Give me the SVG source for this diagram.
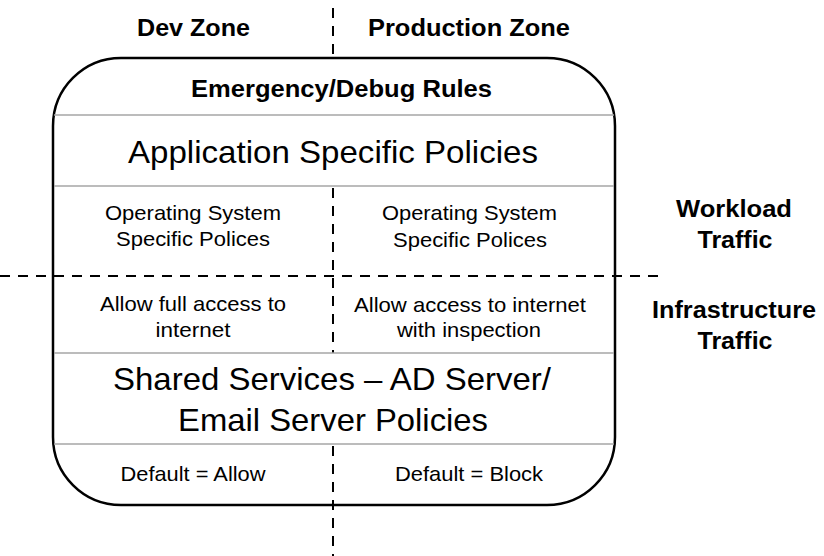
<svg xmlns="http://www.w3.org/2000/svg" width="824" height="556" viewBox="0 0 824 556">
<style>
text{font-family:"Liberation Sans",Arial,sans-serif;fill:#000;text-anchor:middle}
.b{font-weight:bold}
.h{font-size:23px}
.s{font-size:21px}
.m{font-size:21px}
.l{font-size:32px}
.sep{stroke:#a6a6a6;stroke-width:1.5;fill:none}
.dash{stroke:#000;stroke-width:2;stroke-dasharray:10 8;fill:none}
</style>
<rect width="824" height="556" fill="#fff"/>
<g id="connectors">
<line class="dash" x1="333" y1="8" x2="333" y2="58"/>
<line class="dash" x1="333" y1="188" x2="333" y2="353"/>
<line class="dash" x1="333" y1="446" x2="333" y2="556"/>
<line class="dash" x1="0" y1="276" x2="666" y2="276"/>
</g>
<g id="container">
<rect x="53" y="58" width="562" height="447" rx="68" ry="68" fill="none" stroke="#000" stroke-width="2.5"/>
<line class="sep" x1="54" y1="115" x2="614" y2="115"/>
<line class="sep" x1="54" y1="186" x2="614" y2="186"/>
<line class="sep" x1="54" y1="353" x2="614" y2="353"/>
<line class="sep" x1="54" y1="444" x2="614" y2="444"/>
</g>
<g id="dev-zone"><text class="b h" x="193.5" y="36" textLength="113" lengthAdjust="spacingAndGlyphs">Dev Zone</text></g>
<g id="production-zone"><text class="b h" x="469" y="36" textLength="202" lengthAdjust="spacingAndGlyphs">Production Zone</text></g>
<g id="emergency"><text class="b h" x="341.5" y="97" textLength="301" lengthAdjust="spacingAndGlyphs">Emergency/Debug Rules</text></g>
<g id="application"><text class="l" x="333" y="163" textLength="410" lengthAdjust="spacingAndGlyphs">Application Specific Policies</text></g>
<g id="os-dev">
<text class="m" x="193" y="220" textLength="176" lengthAdjust="spacingAndGlyphs">Operating System</text>
<text class="m" x="193" y="246" textLength="154" lengthAdjust="spacingAndGlyphs">Specific Polices</text>
</g>
<g id="os-prod">
<text class="m" x="469.5" y="220" textLength="175" lengthAdjust="spacingAndGlyphs">Operating System</text>
<text class="m" x="470" y="247" textLength="154" lengthAdjust="spacingAndGlyphs">Specific Polices</text>
</g>
<g id="internet-dev">
<text class="m" x="193" y="311" textLength="186" lengthAdjust="spacingAndGlyphs">Allow full access to</text>
<text class="m" x="193" y="337" textLength="75" lengthAdjust="spacingAndGlyphs">internet</text>
</g>
<g id="internet-prod">
<text class="m" x="470" y="312" textLength="232" lengthAdjust="spacingAndGlyphs">Allow access to internet</text>
<text class="m" x="469" y="337" textLength="144" lengthAdjust="spacingAndGlyphs">with inspection</text>
</g>
<g id="shared">
<text class="l" x="332" y="390" textLength="438" lengthAdjust="spacingAndGlyphs">Shared Services – AD Server/</text>
<text class="l" x="333" y="431" textLength="310" lengthAdjust="spacingAndGlyphs">Email Server Policies</text>
</g>
<g id="default-dev"><text class="s" x="193" y="481" textLength="145" lengthAdjust="spacingAndGlyphs">Default = Allow</text></g>
<g id="default-prod"><text class="s" x="469" y="481" textLength="148" lengthAdjust="spacingAndGlyphs">Default = Block</text></g>
<g id="workload">
<text class="b h" x="734" y="217" textLength="116" lengthAdjust="spacingAndGlyphs">Workload</text>
<text class="b h" x="735" y="248" textLength="75" lengthAdjust="spacingAndGlyphs">Traffic</text>
</g>
<g id="infrastructure">
<text class="b h" x="734" y="318" textLength="164" lengthAdjust="spacingAndGlyphs">Infrastructure</text>
<text class="b h" x="735" y="349" textLength="75" lengthAdjust="spacingAndGlyphs">Traffic</text>
</g>
</svg>
